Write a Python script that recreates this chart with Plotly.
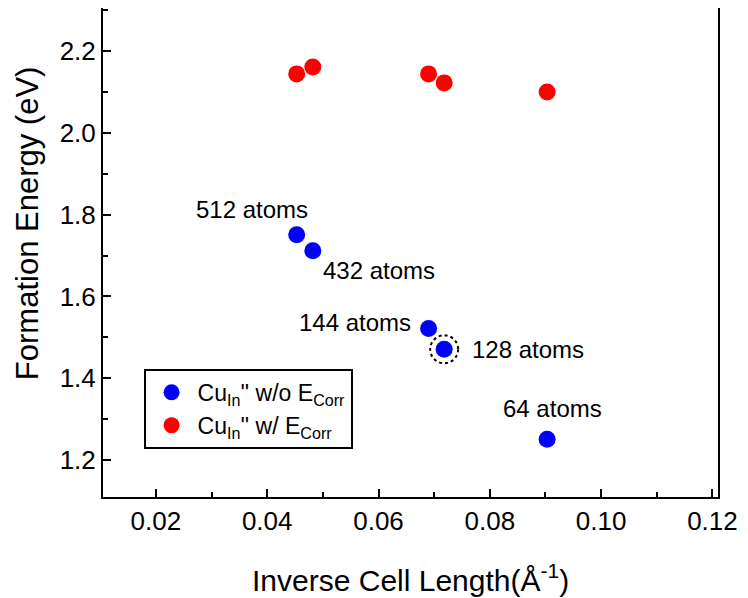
import plotly.graph_objects as go

inv_len = [0.0453, 0.0482, 0.0690, 0.0718, 0.0903]
e_wo = [1.751, 1.712, 1.522, 1.471, 1.251]
e_w = [2.144, 2.161, 2.144, 2.122, 2.100]
atom_labels = ["512 atoms", "432 atoms", "144 atoms", "128 atoms", "64 atoms"]
x_ticks = [0.02, 0.04, 0.06, 0.08, 0.10, 0.12]
x_ticktext = ["0.02", "0.04", "0.06", "0.08", "0.10", "0.12"]
y_ticks = [1.2, 1.4, 1.6, 1.8, 2.0, 2.2]
y_ticktext = ["1.2", "1.4", "1.6", "1.8", "2.0", "2.2"]

FONT = "Liberation Sans, Arial, sans-serif"

fig = go.Figure()
fig.add_trace(go.Scatter(
    x=inv_len, y=e_wo, mode="markers",
    marker=dict(color="#0000ff", size=17),
    legendgroup="a",
    name="Cu<sub>In</sub>'' w/o E<sub>Corr</sub>"))
fig.add_trace(go.Scatter(
    x=inv_len, y=e_w, mode="markers",
    marker=dict(color="#ff0000", size=17),
    legendgroup="b",
    name="Cu<sub>In</sub>'' w/ E<sub>Corr</sub>"))

# label offsets in pixels (dx right, dy down) from each blue point
offsets = [(-45, -25), (66, 20), (-74, -6), (84, 0), (5, -31)]
for xi, yi, t, (dx, dy) in zip(inv_len, e_wo, atom_labels, offsets):
    fig.add_annotation(x=xi, y=yi, text=t, showarrow=False,
                       xshift=dx, yshift=-dy,
                       font=dict(size=24, color="black", family=FONT))

# dashed circle around 128 atoms point
fig.add_shape(type="circle", xref="x", yref="y", xsizemode="pixel", ysizemode="pixel",
              xanchor=inv_len[3], yanchor=e_wo[3], x0=-14, x1=14, y0=-14, y1=14,
              line=dict(color="black", width=2, dash="3px,3px"))

# axis titles
fig.add_annotation(xref="paper", yref="paper", x=0.5, y=0, yshift=-81,
                   text="Inverse Cell Length(Å<sup>-1</sup>)", showarrow=False,
                   xanchor="center", yanchor="middle",
                   font=dict(size=30, color="black", family=FONT))
fig.add_annotation(xref="paper", yref="paper", x=0, xshift=-76, y=0.56,
                   text="Formation Energy (eV)", showarrow=False, textangle=-90,
                   xanchor="center", yanchor="middle",
                   font=dict(size=31, color="black", family=FONT))

axis_common = dict(
    showline=True, linecolor="black", linewidth=2, mirror=True,
    ticks="inside", ticklen=8, tickwidth=2, tickcolor="black",
    showgrid=False, zeroline=False, automargin=False,
    tickfont=dict(size=26, color="black", family=FONT),
)
fig.update_xaxes(range=[0.0105, 0.1210], tickvals=x_ticks, ticktext=x_ticktext,
                 minor=dict(ticks="inside", ticklen=5, tickwidth=2, tickcolor="black", dtick=0.01, tick0=0),
                 **axis_common)
fig.update_yaxes(range=[1.11, 2.305], tickvals=y_ticks, ticktext=y_ticktext,
                 minor=dict(ticks="inside", ticklen=5, tickwidth=2, tickcolor="black", dtick=0.1, tick0=0),
                 **axis_common)

fig.update_layout(
    width=740, height=590,
    margin=dict(l=95, r=30, t=0, b=101),
    plot_bgcolor="white", paper_bgcolor="white",
    font=dict(family=FONT, color="black"),
    legend=dict(x=0.066, y=0.262, xanchor="left", yanchor="top",
                bordercolor="black", borderwidth=2, bgcolor="white",
                font=dict(size=23, color="black", family=FONT),
                tracegroupgap=0, itemwidth=42),
    showlegend=True,
)

fig.write_html("out.html")
